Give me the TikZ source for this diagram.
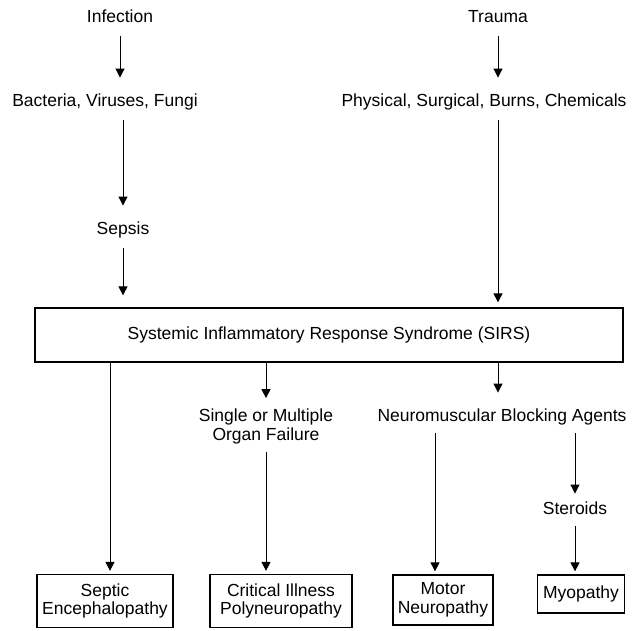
\documentclass[tikz,border=0pt]{standalone}
\usepackage{fontspec}
\setmainfont{Liberation Sans}
\usetikzlibrary{arrows.meta}
\begin{document}
\begin{tikzpicture}[x=1pt, y=-1pt,
    lbl/.style={font=\fontsize{17.5}{19}\selectfont, inner sep=0pt,
                text height=12.5pt, text depth=4pt},
    lbltwo/.style={font=\fontsize{17.5}{19}\selectfont, inner sep=0pt,
                   align=center},
    box/.style={draw, line width=1.3pt, font=\fontsize{17.5}{18.5}\selectfont,
                inner sep=2pt, align=center},
    arr/.style={-{Triangle[width=9pt,length=9pt]}, line width=1pt,
                shorten <=10pt, shorten >=16pt},
    barr/.style={-{Triangle[width=9pt,length=9pt]}, line width=1pt,
                 shorten >=3pt},
]
\useasboundingbox (0,0) rectangle (636,630);

% Causes (top)
\node[lbl] (inf) at (120,18) {Infection};
\node[lbl] (bact) at (105,102) {Bacteria, Viruses, Fungi};
\node[lbl] (sepsis) at (123,230) {Sepsis};
\node[lbl] (trauma) at (498,18) {Trauma};
\node[lbl] (phys) at (484,102) {Physical, Surgical, Burns, Chemicals};

\draw[arr] (inf.south) -- (inf.south |- bact.north);
\draw[arr] (bact.south -| sepsis) -- (sepsis.north);
\draw[arr] (trauma.south) -- (trauma.south |- phys.north);

% SIRS
\node[box, minimum width=588, minimum height=54] (sirs) at (329,335)
    {Systemic Inflammatory Response Syndrome (SIRS)};
\draw[arr, shorten >=12pt] (sepsis.south) -- (sepsis.south |- sirs.north);
\draw[arr, shorten >=5pt] (phys.south -| trauma) -- (trauma |- sirs.north);

% Intermediate
\node[lbltwo] (organ) at (266,426) {Single or Multiple\\Organ Failure};
\node[lbl] (nmba) at (502,417) {Neuromuscular Blocking Agents};
\node[lbl] (steroids) at (575,510) {Steroids};

\draw[arr, shorten <=0pt, shorten >=10pt] (sirs.south -| organ) -- (organ.north);
\draw[arr, shorten <=0pt, shorten >=16pt] ([xshift=-4pt]sirs.south -| nmba)
    -- ([xshift=-4pt]nmba.north);

% Outcomes (bottom)
\node[box, minimum width=136, minimum height=53] (septic) at (105,601)
    {Septic\\Encephalopathy};
\node[box, minimum width=142, minimum height=53] (crit) at (281,601)
    {Critical Illness\\Polyneuropathy};
\node[box, minimum width=100, minimum height=50] (motor) at (443,600)
    {Motor\\Neuropathy};
\node[box, minimum width=87, minimum height=38] (myo) at (581,594)
    {Myopathy};

\draw[barr] ([xshift=5pt]sirs.south -| septic) -- ([xshift=5pt]septic.north);
\draw[barr, shorten <=8pt] (organ.south) -- (organ.south |- crit.north);
\draw[barr, shorten <=8pt] ([xshift=-8pt]nmba.south -| motor)
    -- ([xshift=-8pt]motor.north);
\draw[barr, shorten <=8pt, shorten >=8pt] (nmba.south -| steroids) -- (steroids.north);
\draw[barr, shorten <=8pt] (steroids.south) -- (steroids.south |- myo.north);

\end{tikzpicture}
\end{document}
